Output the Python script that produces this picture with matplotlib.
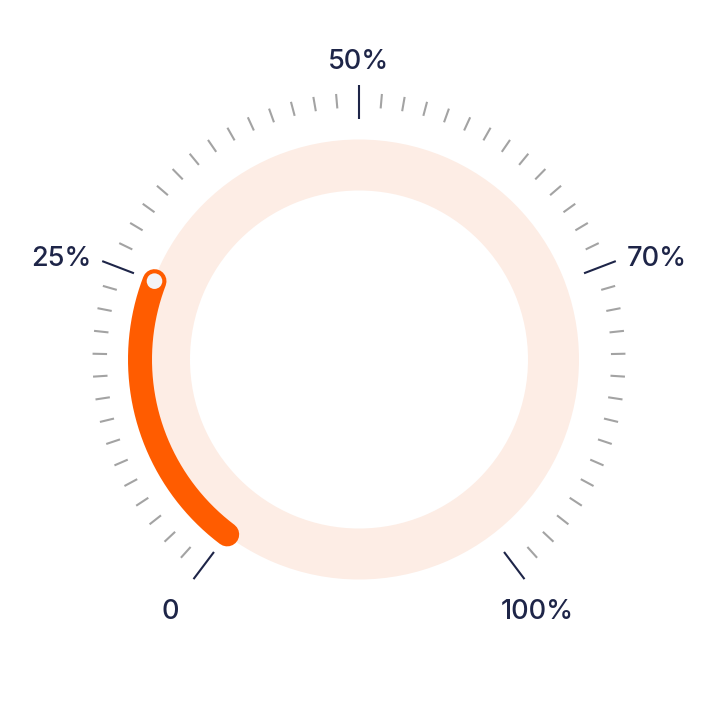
import numpy as np
import matplotlib
matplotlib.use("Agg")
import matplotlib.pyplot as plt
from matplotlib.patches import Wedge, Circle
from matplotlib.collections import LineCollection

# ---- data ----
label_texts = ["0", "25%", "50%", "70%", "100%"]
label_values = [0, 25, 50, 70, 100]
label_tick_index = [0, 15, 29, 43, 58]   # position of each labelled tick among the tick marks
n_intervals = 58
value = 25

# ---- style ----
C_TRACK = "#fdede5"
C_BAR = "#ff5c00"
C_DOT = "#f4f4f7"
C_MINOR = "#a3a3a3"
C_MAJOR = "#1e2548"
C_TEXT = "#1e2548"

START, END = -143.0, 143.0   # degrees, clockwise from top

plt.rcParams["font.family"] = ["Inter", "DejaVu Sans"]

fig = plt.figure(figsize=(7.2, 7.2), dpi=100)
ax = fig.add_axes([0, 0, 1, 1])
cx, cy = 0.0, 0.0
ax.set_xlim(-359.0, 361.0)
ax.set_ylim(-360.5, 359.5)
ax.set_aspect("equal")
ax.axis("off")


def polar(r, a_deg):
    a = np.deg2rad(a_deg)
    return cx + r * np.sin(a), cy + r * np.cos(a)


step = (END - START) / n_intervals
tick_angles = START + step * np.arange(n_intervals + 1)
label_angles = [START + step * i for i in label_tick_index]


def val2ang(v):
    return np.interp(v, label_values, label_angles)


# track ring
ax.add_patch(Wedge((cx, cy), 220, 0, 360, width=51, facecolor=C_TRACK, edgecolor="none"))

# ticks
minor_segs, major_segs = [], []
for i, a in enumerate(tick_angles):
    if i in label_tick_index:
        major_segs.append([polar(241, a), polar(275, a)])
    else:
        minor_segs.append([polar(252, a), polar(266.5, a)])
ax.add_collection(LineCollection(minor_segs, colors=C_MINOR, linewidths=1.5, capstyle="butt"))
ax.add_collection(LineCollection(major_segs, colors=C_MAJOR, linewidths=1.5, capstyle="butt"))

# progress arc
a0, a1 = val2ang(0), val2ang(value)
arc = np.linspace(a0, a1, 200)
xs, ys = polar(219, arc)
ax.plot(xs, ys, color=C_BAR, lw=24 * 72 / 100, solid_capstyle="round", zorder=3)
ex, ey = polar(219, a1)
ax.add_patch(Circle((ex, ey), 7.8, facecolor=C_DOT, edgecolor="none", zorder=4))

# labels
fs = 19.5
fw = 500
for txt, a in zip(label_texts, label_angles):
    if abs(a) < 1:
        x, y = polar(287, a)
        ax.text(x, y - 2.5, txt, ha="center", va="bottom", fontsize=fs, fontweight=fw, color=C_TEXT)
    elif abs(a) < 90:
        x, y = polar(287, a)
        ax.text(x, y - 2.5, txt, ha="right" if a < 0 else "left", va="center",
                fontsize=fs, fontweight=fw, color=C_TEXT)
    else:
        x, y = polar(313, a)
        if a > 0:
            x -= 10
        ax.text(x, y - 2.5, txt, ha="center", va="center", fontsize=fs, fontweight=fw, color=C_TEXT)

fig.savefig("out.png", dpi=100, facecolor="white")
